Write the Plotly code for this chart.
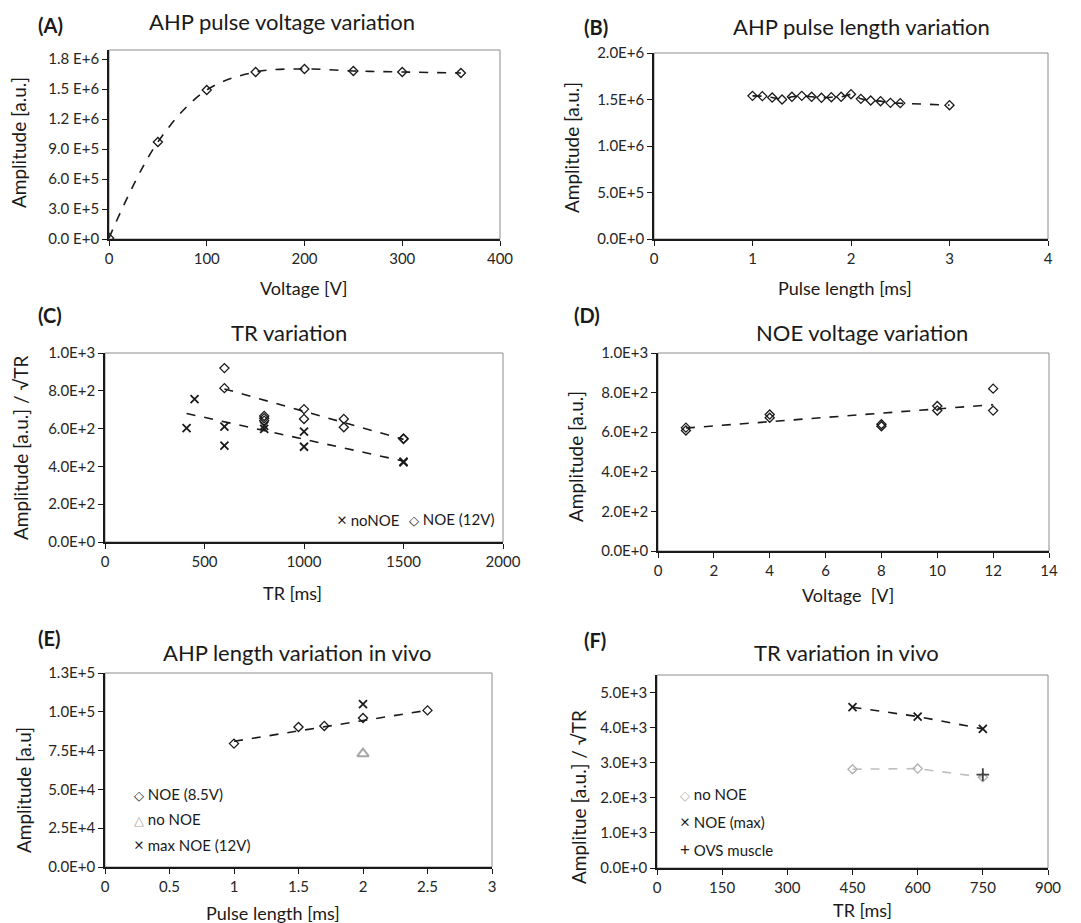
import plotly.graph_objects as go

W, H = 1081, 923
FONT = "Lato"

# ---------------- data ----------------
# (A) AHP pulse voltage variation
a_voltage = [0, 50, 100, 150, 200, 250, 300, 360]
a_amplitude = [0.01e6, 0.97e6, 1.49e6, 1.67e6, 1.70e6, 1.68e6, 1.67e6, 1.66e6]
a_yticks = [0, 0.3e6, 0.6e6, 0.9e6, 1.2e6, 1.5e6, 1.8e6]
a_yticklabels = ["0.0 E+0", "3.0 E+5", "6.0 E+5", "9.0 E+5", "1.2 E+6", "1.5 E+6", "1.8 E+6"]
a_xticks = [0, 100, 200, 300, 400]

# (B) AHP pulse length variation
b_length = [1.0, 1.1, 1.2, 1.3, 1.4, 1.5, 1.6, 1.7, 1.8, 1.9, 2.0, 2.1, 2.2, 2.3, 2.4, 2.5, 3.0]
b_amplitude = [1.539e6, 1.536e6, 1.521e6, 1.500e6, 1.529e6, 1.539e6, 1.529e6, 1.518e6, 1.525e6,
               1.529e6, 1.557e6, 1.507e6, 1.489e6, 1.482e6, 1.464e6, 1.461e6, 1.439e6]
b_yticks = [0, 0.5e6, 1.0e6, 1.5e6, 2.0e6]
b_yticklabels = ["0.0E+0", "5.0E+5", "1.0E+6", "1.5E+6", "2.0E+6"]
b_xticks = [0, 1, 2, 3, 4]

# (C) TR variation
c_nonoe_tr = [410, 450, 600, 600, 800, 800, 1000, 1000, 1500, 1500]
c_nonoe_amp = [602, 756, 611, 510, 598, 614, 584, 504, 421, 425]
c_noe_tr = [600, 600, 800, 800, 800, 1000, 1000, 1200, 1200, 1500, 1500]
c_noe_amp = [920, 814, 667, 655, 642, 703, 651, 651, 607, 548, 545]
c_nonoe_trend_tr = [410, 1500]
c_nonoe_trend_amp = [680, 428]
c_noe_trend_tr = [600, 1500]
c_noe_trend_amp = [810, 543]
c_yticks = [0, 200, 400, 600, 800, 1000]
c_yticklabels = ["0.0E+0", "2.0E+2", "4.0E+2", "6.0E+2", "8.0E+2", "1.0E+3"]
c_xticks = [0, 500, 1000, 1500, 2000]

# (D) NOE voltage variation
d_voltage = [1, 1, 4, 4, 8, 8, 10, 10, 12, 12]
d_amplitude = [623, 609, 689, 673, 640, 630, 732, 710, 820, 709]
d_trend_voltage = [1, 12]
d_trend_amplitude = [621, 739]
d_yticks = [0, 200, 400, 600, 800, 1000]
d_yticklabels = ["0.0E+0", "2.0E+2", "4.0E+2", "6.0E+2", "8.0E+2", "1.0E+3"]
d_xticks = [0, 2, 4, 6, 8, 10, 12, 14]

# (E) AHP length variation in vivo
e_noe_length = [1.0, 1.5, 1.7, 2.0, 2.5]
e_noe_amp = [79.5e3, 90.2e3, 90.9e3, 96.0e3, 100.9e3]
e_nonoe_length = [2.0]
e_nonoe_amp = [73.0e3]
e_maxnoe_length = [2.0]
e_maxnoe_amp = [105.0e3]
e_trend_length = [1.0, 2.5]
e_trend_amp = [81.0e3, 101.0e3]
e_yticks = [0, 25e3, 50e3, 75e3, 100e3, 125e3]
e_yticklabels = ["0.0E+0", "2.5E+4", "5.0E+4", "7.5E+4", "1.0E+5", "1.3E+5"]
e_xticks = [0, 0.5, 1, 1.5, 2, 2.5, 3]
e_xticklabels = ["0", "0.5", "1", "1.5", "2", "2.5", "3"]

# (F) TR variation in vivo
f_tr = [450, 600, 750]
f_nonoe_amp = [2814, 2833, 2586]
f_noe_amp = [4582, 4316, 3964]
f_ovs_tr = [750]
f_ovs_amp = [2662]
f_yticks = [0, 1000, 2000, 3000, 4000, 5000]
f_yticklabels = ["0.0E+0", "1.0E+3", "2.0E+3", "3.0E+3", "4.0E+3", "5.0E+3"]
f_xticks = [0, 150, 300, 450, 600, 750, 900]

# ---------------- layout helpers ----------------
def px_x(p):
    return p / W

def px_y(p):
    return 1 - p / H

boxes = {
    1: (109, 500, 50, 239),
    2: (654, 1048, 53, 239),
    3: (105, 503, 353, 542),
    4: (658, 1049, 353, 551),
    5: (105, 492, 673, 867),
    6: (657, 1048, 675, 868),
}

fig = go.Figure()

BLACK = "#1a1a1a"
GRAY = "#a6a6a6"
DASH = "dash"

def diamond(x, y, ax, color=BLACK, size=7):
    fig.add_trace(go.Scatter(x=x, y=y, mode="markers", xaxis=f"x{ax}", yaxis=f"y{ax}",
                             marker=dict(symbol="diamond-open", size=size, color=color,
                                         line=dict(width=1.3, color=color)),
                             showlegend=False, hoverinfo="skip"))

def cross(x, y, ax, color=BLACK, size=8):
    fig.add_trace(go.Scatter(x=x, y=y, mode="markers", xaxis=f"x{ax}", yaxis=f"y{ax}",
                             marker=dict(symbol="x-thin-open", size=size, color=color,
                                         line=dict(width=1.8, color=color)),
                             showlegend=False, hoverinfo="skip"))

def dline(x, y, ax, color=BLACK, shape="linear"):
    fig.add_trace(go.Scatter(x=x, y=y, mode="lines", xaxis=f"x{ax}", yaxis=f"y{ax}",
                             line=dict(color=color, width=1.6, dash=DASH, shape=shape, smoothing=1.0),
                             showlegend=False, hoverinfo="skip"))

# A
dline(a_voltage, a_amplitude, 1, shape="spline")
diamond(a_voltage, a_amplitude, 1)
# B
dline(b_length, b_amplitude, 2)
diamond(b_length, b_amplitude, 2)
# C
dline(c_nonoe_trend_tr, c_nonoe_trend_amp, 3)
dline(c_noe_trend_tr, c_noe_trend_amp, 3)
cross(c_nonoe_tr, c_nonoe_amp, 3)
diamond(c_noe_tr, c_noe_amp, 3)
# D
dline(d_trend_voltage, d_trend_amplitude, 4)
diamond(d_voltage, d_amplitude, 4)
# E
dline(e_trend_length, e_trend_amp, 5)
diamond(e_noe_length, e_noe_amp, 5)
fig.add_trace(go.Scatter(x=e_nonoe_length, y=e_nonoe_amp, mode="markers", xaxis="x5", yaxis="y5",
                         marker=dict(symbol="triangle-up-open", size=10, color=GRAY,
                                     line=dict(width=2, color=GRAY)),
                         showlegend=False, hoverinfo="skip"))
cross(e_maxnoe_length, e_maxnoe_amp, 5)
# F
dline(f_tr, f_noe_amp, 6)
dline(f_tr, f_nonoe_amp, 6, color="#bfbfbf")
cross(f_tr, f_noe_amp, 6)
diamond(f_tr, f_nonoe_amp, 6, color="#b0b0b0")
fig.add_trace(go.Scatter(x=f_ovs_tr, y=f_ovs_amp, mode="markers", xaxis="x6", yaxis="y6",
                         marker=dict(symbol="cross-thin-open", size=9, color="#404040",
                                     line=dict(width=1.8, color="#404040")),
                         showlegend=False, hoverinfo="skip"))

axes_spec = {
    1: dict(xr=[0, 400], yr=[0, 1.89e6], xt=a_xticks, xl=None, yt=a_yticks, yl=a_yticklabels),
    2: dict(xr=[0, 4], yr=[0, 2.0e6], xt=b_xticks, xl=None, yt=b_yticks, yl=b_yticklabels),
    3: dict(xr=[0, 2000], yr=[0, 1000], xt=c_xticks, xl=None, yt=c_yticks, yl=c_yticklabels),
    4: dict(xr=[0, 14], yr=[0, 1000], xt=d_xticks, xl=None, yt=d_yticks, yl=d_yticklabels),
    5: dict(xr=[0, 3], yr=[0, 125e3], xt=e_xticks, xl=e_xticklabels, yt=e_yticks, yl=e_yticklabels),
    6: dict(xr=[0, 900], yr=[0, 5500], xt=f_xticks, xl=None, yt=f_yticks, yl=f_yticklabels),
}

tickfont = dict(family=FONT, size=15, color="#262626")
layout_axes = {}
shapes = []
for i, spec in axes_spec.items():
    x0, x1, y0, y1 = boxes[i]
    suffix = "" if i == 1 else str(i)
    common = dict(showline=True, linecolor=BLACK, linewidth=1.6, ticks="outside", ticklen=5,
                  tickwidth=1, tickcolor=BLACK, showgrid=False, zeroline=False,
                  tickfont=tickfont, fixedrange=True, automargin=False)
    xa = dict(domain=[px_x(x0), px_x(x1)], range=spec["xr"], anchor=f"y{suffix}",
              tickvals=spec["xt"], **common)
    if spec["xl"] is not None:
        xa["ticktext"] = spec["xl"]
    ya = dict(domain=[px_y(y1), px_y(y0)], range=spec["yr"], anchor=f"x{suffix}",
              tickvals=spec["yt"], ticktext=spec["yl"], **common)
    layout_axes[f"xaxis{suffix}"] = xa
    layout_axes[f"yaxis{suffix}"] = ya
    shapes.append(dict(type="rect", xref=f"x{suffix} domain", yref=f"y{suffix} domain",
                       x0=0, x1=1, y0=0, y1=1, layer="below",
                       line=dict(color="#8c8c8c", width=1)))

annotations = []

def ann(text, x, y, size, bold=False, angle=0, xanchor="center", color="#1a1a1a"):
    annotations.append(dict(text=f"<b>{text}</b>" if bold else text,
                            x=px_x(x), y=px_y(y), xref="paper", yref="paper",
                            xanchor=xanchor, yanchor="middle", showarrow=False,
                            textangle=angle, font=dict(family=FONT, size=size, color=color)))

# panel labels
for lab, x, y in [("(A)", 36, 25), ("(B)", 582, 27), ("(C)", 36, 315),
                  ("(D)", 572, 315), ("(E)", 36, 638), ("(F)", 582, 640)]:
    ann(lab, x, y, 20, bold=True, xanchor="left")

# titles
for t, x, y in [("AHP pulse voltage variation", 282, 21), ("AHP pulse length variation", 861, 27),
                ("TR variation", 289, 332), ("NOE voltage variation", 862, 332),
                ("AHP length variation in vivo", 297, 652), ("TR variation in vivo", 846, 652)]:
    ann(t, x, y, 22)

# axis titles
for t, x, y in [("Voltage [V]", 304, 288), ("Pulse length [ms]", 845, 288),
                ("TR [ms]", 292, 593), ("Voltage  [V]", 848, 595),
                ("Pulse length [ms]", 273, 913), ("TR [ms]", 862, 910)]:
    ann(t, x, y, 18)
for t, x, y in [("Amplitude [a.u.]", 18, 143), ("Amplitude [a.u.]", 572, 148),
                ("Amplitude [a.u.] / √TR", 20, 448), ("Amplitude [a.u.]", 575, 457),
                ("Amplitude [a.u]", 23, 790), ("Amplitue [a.u.] / √TR", 578, 797)]:
    ann(t, x, y, 19, angle=-90)

# in-plot legends
def sym(s, c="#1a1a1a", fs=17):
    return f"<span style='color:{c};font-size:{fs}px'>{s}</span>"

ann(sym("×") + " noNOE", 335, 519, 15, xanchor="left")
ann(sym("◇", fs=13) + " NOE (12V)", 407, 519, 15, xanchor="left")
ann(sym("◇", fs=13) + " NOE (8.5V)", 132, 794, 15, xanchor="left")
ann(sym("△", GRAY, 13) + " no NOE", 132, 819, 15, xanchor="left")
ann(sym("×") + " max NOE (12V)", 132, 844, 15, xanchor="left")
ann(sym("◇", "#b0b0b0", 13) + " no NOE", 678, 794, 15, xanchor="left")
ann(sym("×") + " NOE (max)", 678, 821, 15, xanchor="left")
ann(sym("+") + " OVS muscle", 678, 849, 15, xanchor="left")

fig.update_layout(width=W, height=H, margin=dict(l=0, r=0, t=0, b=0),
                  paper_bgcolor="white", plot_bgcolor="white",
                  shapes=shapes, annotations=annotations, showlegend=False,
                  font=dict(family=FONT, size=14, color="#1a1a1a"), **layout_axes)

fig.write_html("out.html")
